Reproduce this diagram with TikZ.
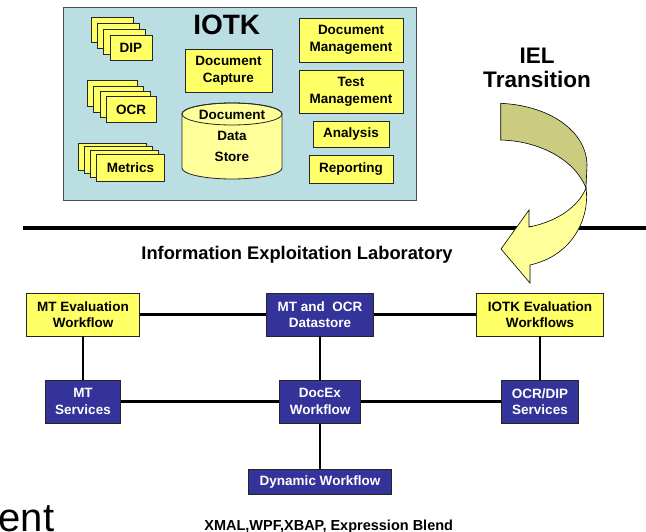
\documentclass[tikz,border=0pt]{standalone}
\usepackage{fontspec}
\setmainfont{Liberation Sans}
\usepackage{tikz}
\usetikzlibrary{positioning}
\definecolor{colorpanel} {RGB}{187,222,226}
\definecolor{coloryellow}{RGB}{255,255,102}
\definecolor{colorpale}  {RGB}{255,255,153}
\definecolor{colorblue}  {RGB}{51,51,153}
\definecolor{colorolive} {RGB}{204,204,128}

\begin{document}
\begin{tikzpicture}[
    x=1pt, y=-1pt,
    font={\bfseries},
    panel/.style={draw=black!70,line width=1pt,fill=colorpanel,inner sep=0pt},
    tool/.style={draw=black!85,line width=0.8pt,fill=coloryellow,inner sep=0pt,align=center,font={\fontsize{13.5}{16.7}\selectfont\bfseries}},
    service/.style={tool,fill=colorblue,text=white},
    link/.style={line width=2.5pt},
    arrowpart/.style={draw=black,line width=0.6pt},
]
    \useasboundingbox (0,0) rectangle (646,532);

    % IOTK panel
    \node[panel, minimum width=353, minimum height=193] (iotk) at (239.5,104.5) {};
    \node[anchor=base, font={\fontsize{28}{30}\selectfont\bfseries}] (iotktitle) at (226.7,34.3) {IOTK};

    % Stacked tools
    \foreach \k in {3,2,1}
        \node[tool, minimum width=42, minimum height=25] (dip\k) at ({131-6.3*\k},{47.5-6*\k}) {};
    \node[tool, minimum width=42, minimum height=25] (dip) at (131,47.5) {DIP};
    \foreach \k in {3,2,1}
        \node[tool, minimum width=50, minimum height=26] (ocr\k) at ({131-6.1*\k},{109.7-5.3*\k}) {};
    \node[tool, minimum width=50, minimum height=26] (ocr) at (131,109.7) {OCR};
    \foreach \k in {3,2,1}
        \node[tool, minimum width=67.6, minimum height=27] (metrics\k) at ({130.5-6.1*\k},{167.5-3.6*\k}) {};
    \node[tool, minimum width=67.6, minimum height=27] (metrics) at (130.5,167.5) {Metrics};

    % Capture and data store
    \node[tool, minimum width=87, minimum height=43] (capture) at (228.5,70.5) {Document\\Capture};
    \filldraw[fill=colorpale, draw=black!85, line width=0.8pt] (182,114) -- (182,168)
        arc[start angle=180, end angle=360, x radius=50pt, y radius=11pt] -- (282,114)
        arc[start angle=0, end angle=180, x radius=50pt, y radius=11pt] -- cycle;
    \draw[black!85, line width=0.8pt] (232,114) ellipse [x radius=50pt, y radius=11pt];
    \node[align=center, font={\fontsize{13.5}{21}\selectfont\bfseries}] (store) at (232,136.2) {Document\\Data\\Store};

    % Management tools
    \node[tool, minimum width=104, minimum height=44] (docman) at (351,40) {Document\\Management};
    \node[tool, minimum width=104, minimum height=43] (testman) at (351,91.5) {Test\\Management};
    \node[tool, minimum width=76, minimum height=26] (analysis) at (351,134) {Analysis};
    \node[tool, minimum width=84, minimum height=28] (reporting) at (351,169) {Reporting};

    % Divider
    \coordinate (divleft) at (22.7,228);
    \coordinate (divright) at (646,228);
    \draw[line width=3.3pt] (divleft) -- (divright);

    % IEL transition
    \node[align=center, inner sep=0pt, font={\fontsize{22.5}{23.4}\selectfont\bfseries}] (iel) at (537,68) {IEL\\Transition};
    \path[arrowpart, fill=colorolive] (500.7,103.3) .. controls (555,106) and (587,135) .. (587,165)
        -- (586,188) .. controls (575,160) and (540,141) .. (500.7,140) -- cycle;
    \path[arrowpart, fill=colorpale] (586,188) .. controls (590,215) and (575,255) .. (530,265)
        -- (530,283) -- (501,249) -- (529,210) -- (529,227)
        .. controls (555,222) and (578,208) .. (586,188) -- cycle;

    % Laboratory
    \node[anchor=base, font={\fontsize{18.3}{20}\selectfont\bfseries}] (lab) at (297,260) {Information Exploitation Laboratory};

    \node[tool, minimum width=112.6, minimum height=42.7] (mteval) at (83,314.7) {MT Evaluation\\Workflow};
    \node[service, minimum width=106.6, minimum height=42.7] (datastore) at (320,314.7) {MT and\ \ OCR\\Datastore};
    \node[tool, minimum width=126.7, minimum height=42.7] (iotkeval) at (540,314.7) {IOTK Evaluation\\Workflows};

    \node[service, minimum width=75, minimum height=43.3] (mtserv) at (83,401.7) {MT\\Services};
    \node[service, minimum width=81, minimum height=43.3] (docex) at (320,401.7) {DocEx\\Workflow};
    \node[service, minimum width=76.6, minimum height=43.3] (ocrdip) at (540,401.7) {OCR/DIP\\Services};

    \node[service, minimum width=143.7, minimum height=25.7] (dynwf) at (320,482) {Dynamic Workflow};

    % Links
    \draw[link] (mteval) -- (datastore);
    \draw[link] (datastore) -- (iotkeval);
    \draw[link] (mteval) -- (mtserv);
    \draw[link] (datastore) -- (docex);
    \draw[link] (iotkeval) -- (ocrdip);
    \draw[link] (mtserv) -- (docex);
    \draw[link] (docex) -- (ocrdip);
    \draw[link] (docex) -- (dynwf);

    % Footer
    \node[anchor=base west, inner sep=0pt, font={\fontsize{40}{44}\selectfont\mdseries}] (ent) at (-1.5,531) {ent};
    \node[anchor=base, font={\fontsize{14.5}{16}\selectfont\bfseries}] (tools) at (328.7,530) {XMAL,WPF,XBAP, Expression Blend};

\end{tikzpicture}
\end{document}
